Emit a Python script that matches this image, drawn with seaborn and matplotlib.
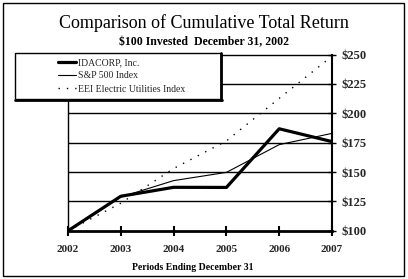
import matplotlib
matplotlib.use("Agg")
import matplotlib.pyplot as plt
from matplotlib.lines import Line2D
from matplotlib.patches import Rectangle
import seaborn as sns
import pandas as pd

years = [2002, 2003, 2004, 2005, 2006, 2007]
idacorp = [100, 129.4, 137.0, 136.9, 186.8, 175.9]
sp500 = [100, 128.7, 142.7, 149.7, 173.3, 182.9]
eei = [100, 123.5, 153.0, 176.5, 212.7, 248.5]
series_names = ["IDACORP, Inc.", "S&P 500 Index", "EEI Electric Utilities Index"]
y_ticks = [100, 125, 150, 175, 200, 225, 250]
y_labels = ["$100", "$125", "$150", "$175", "$200", "$225", "$250"]

sns.set_theme(style="white")
plt.rcParams["font.family"] = ["Liberation Serif", "DejaVu Serif"]

W, H = 408, 279
fig = plt.figure(figsize=(W / 100, H / 100), dpi=100)
fig.patch.set_facecolor("white")

def fx(px):
    return px / W

def fy(py):
    return 1 - py / H

ax = fig.add_axes([fx(68), fy(230.8), fx(332) - fx(68), fy(54.5) - fy(230.8)])
ax.set_facecolor("white")

df = pd.DataFrame({"year": years, "IDACORP": idacorp, "SP": sp500, "EEI": eei})

sns.lineplot(data=df, x="year", y="IDACORP", ax=ax, color="black", linewidth=2.3,
             label=series_names[0], legend=False)
sns.lineplot(data=df, x="year", y="SP", ax=ax, color="black", linewidth=0.8,
             label=series_names[1], legend=False)
sns.lineplot(data=df, x="year", y="EEI", ax=ax, color="black", linewidth=1.0,
             label=series_names[2], legend=False, linestyle=(0, (1, 5)))

ax.set_xlim(years[0], years[-1])
ax.set_ylim(100, 250)
ax.set_xticks(years)
ax.set_xticklabels([str(y) for y in years], fontsize=8, fontweight="bold")
ax.set_yticks(y_ticks)
ax.set_yticklabels(y_labels, fontsize=9, fontweight="bold")
ax.yaxis.tick_right()
ax.set_xlabel("")
ax.set_ylabel("")

for yv in y_ticks[1:-1]:
    ax.axhline(yv, color="black", linewidth=1.0, zorder=1)

ax.spines["top"].set_visible(True)
ax.spines["top"].set_linewidth(1.0)
ax.spines["left"].set_linewidth(1.0)
ax.spines["right"].set_linewidth(1.5)
ax.spines["bottom"].set_linewidth(2.0)
for s in ax.spines.values():
    s.set_color("black")

ax.tick_params(axis="x", direction="inout", length=7, width=1.5, color="black", pad=7,
               bottom=True)
ax.tick_params(axis="y", direction="inout", length=6, width=1.0, color="black", pad=4,
               right=True, left=False)

# Legend box: white fill covering the plot, thin top/left, thicker right/bottom
fig.add_artist(Rectangle((fx(15), fy(99)), fx(221) - fx(15), fy(53) - fy(99),
                         transform=fig.transFigure, facecolor="white", edgecolor="black",
                         lw=1.0, zorder=3))
fig.add_artist(Line2D([fx(221), fx(221)], [fy(53), fy(100)], color="black", lw=2.0,
                      transform=fig.transFigure, zorder=4))
fig.add_artist(Line2D([fx(15), fx(222)], [fy(99.5), fy(99.5)], color="black", lw=2.0,
                      transform=fig.transFigure, zorder=4))

# Legend (line handles from library)
handles, labels = ax.get_legend_handles_labels()
leg = fig.legend(handles, labels, loc="upper left",
                 bbox_to_anchor=(fx(55), fy(55)), bbox_transform=fig.transFigure,
                 frameon=False, fontsize=7, handlelength=1.9, handletextpad=0.2,
                 labelspacing=0.45, borderpad=0.3, borderaxespad=0)
leg.set_zorder(5)

# Titles
fig.text(0.5, fy(23), "Comparison of Cumulative Total Return", ha="center", va="center",
         fontsize=13, color="black")
fig.text(0.5, fy(42), "$100 Invested  December 31, 2002", ha="center", va="center",
         fontsize=8.5, fontweight="bold", color="black")
fig.text(fx(193), fy(267), "Periods Ending December 31", ha="center", va="center",
         fontsize=7, fontweight="bold", color="black")

# Outer frame
fig.add_artist(Rectangle((fx(2.5), fy(276)), fx(404) - fx(2.5), fy(2.5) - fy(276),
                         transform=fig.transFigure, fill=False, edgecolor="black", lw=1.0))

fig.savefig("out.png", dpi=100)
